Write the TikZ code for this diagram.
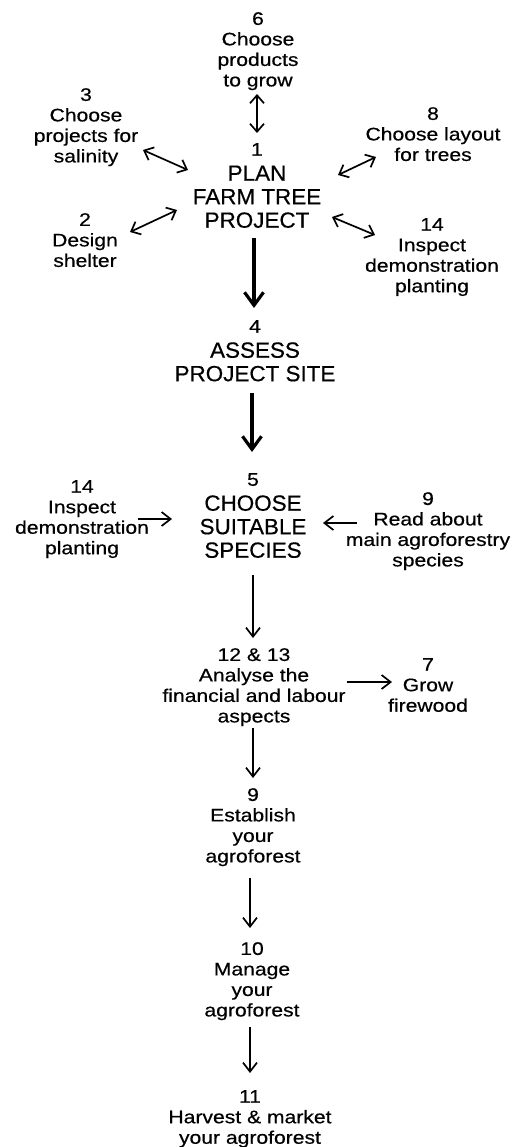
\documentclass[tikz,border=0pt]{standalone}
\usepackage{fontspec}
\setmainfont{Liberation Sans}[FakeStretch=1.16,FakeBold=0.5]
\newfontfamily\bigfont{Liberation Sans}[FakeStretch=1.02,FakeBold=0.5]
\usetikzlibrary{arrows.meta}
\newcommand{\BIG}[1]{{\bigfont\fontsize{22}{24}\selectfont #1}}
\begin{document}
\begin{tikzpicture}[x=1pt,y=-1pt,
  lbl/.style={align=center, inner sep=0pt, anchor=north, font=\fontsize{18.2}{20.5}\selectfont},
  thinarrow/.style={line width=1.7pt, -{Straight Barb[length=9pt,width=14pt]}},
  dblarrow/.style={line width=1.7pt, {Straight Barb[length=8pt,width=14pt]}-{Straight Barb[length=8pt,width=14pt]}},
  thickarrow/.style={line width=3.2pt, -{Straight Barb[length=13pt,width=19pt]}}]
\fill[white] (0,0) rectangle (528,1147);
\useasboundingbox (0,0) rectangle (528,1147);

\node[lbl] (n6) at (258,12) {6\\Choose\\products\\to grow};
\node[lbl] (n3) at (86,88) {3\\Choose\\projects for\\salinity};
\node[lbl] (n8) at (433,107) {8\\Choose layout\\for trees};
\node[lbl] (n1) at (257,143) {1\\[4.5pt]\BIG{PLAN}\\[3pt]\BIG{FARM TREE}\\[3pt]\BIG{PROJECT}};
\node[lbl] (n2) at (85,213) {2\\Design\\shelter};
\node[lbl] (n14a) at (432,218) {14\\Inspect\\demonstration\\planting};
\node[lbl] (n4) at (255,320) {4\\[4.5pt]\BIG{ASSESS}\\[3pt]\BIG{PROJECT SITE}};
\node[lbl] (n14b) at (82,480) {14\\Inspect\\demonstration\\planting};
\node[lbl] (n5) at (253,473) {5\\[4.5pt]\BIG{CHOOSE}\\[3pt]\BIG{SUITABLE}\\[3pt]\BIG{SPECIES}};
\node[lbl] (n9a) at (428,492) {9\\Read about\\main agroforestry\\species};
\node[lbl] (n12) at (254,648) {12 \& 13\\Analyse the\\financial and labour\\aspects};
\node[lbl] (n7) at (428,658) {7\\Grow\\firewood};
\node[lbl] (n9b) at (253,788) {9\\Establish\\your\\agroforest};
\node[lbl] (n10) at (252,942) {10\\Manage\\your\\agroforest};
\node[lbl] (n11) at (250,1090) {11\\Harvest \& market\\your agroforest};

\draw[dblarrow] ([shift={(-1,82)}]n6.north) -- ([shift={(0,-10)}]n1.north);
\draw[dblarrow] ([shift={(57,62)}]n3.north) -- ([shift={(-69,27)}]n1.north);
\draw[dblarrow] ([shift={(45,19)}]n2.north) -- ([shift={(-80,67)}]n1.north);
\draw[dblarrow] ([shift={(81,32)}]n1.north) -- ([shift={(-57,50)}]n8.north);
\draw[dblarrow] ([shift={(75,74)}]n1.north) -- ([shift={(-57,17)}]n14a.north);
\draw[thickarrow] ([shift={(-3,95)}]n1.north) -- ([shift={(-1,-12)}]n4.north);
\draw[thickarrow] ([shift={(-3,73)}]n4.north) -- ([shift={(-1,-21)}]n5.north);
\draw[thinarrow] ([shift={(56,39)}]n14b.north) -- ([shift={(-81,46)}]n5.north);
\draw[thinarrow] ([shift={(-71,31)}]n9a.north) -- ([shift={(70,50)}]n5.north);
\draw[thinarrow] ([shift={(0,102)}]n5.north) -- ([shift={(-1,-10)}]n12.north);
\draw[thinarrow] ([shift={(93,34)}]n12.north) -- ([shift={(-36,24)}]n7.north);
\draw[thinarrow] ([shift={(-1,80)}]n12.north) -- ([shift={(0,-10)}]n9b.north);
\draw[thinarrow] ([shift={(-3,90)}]n9b.north) -- ([shift={(-2,-14)}]n10.north);
\draw[thinarrow] ([shift={(-2,85)}]n10.north) -- ([shift={(0,-17)}]n11.north);
\end{tikzpicture}
\end{document}
